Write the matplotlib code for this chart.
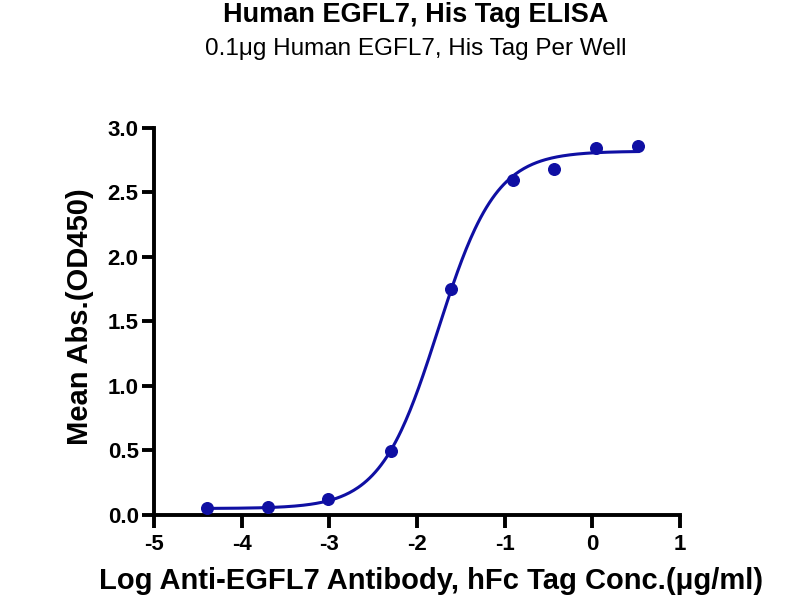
import numpy as np
import matplotlib
matplotlib.use("Agg")
import matplotlib.pyplot as plt

plt.rcParams['font.family'] = ['Liberation Sans', 'DejaVu Sans']
plt.rcParams['axes.unicode_minus'] = False

# measured points (log conc, OD450)
log_conc = [-4.40, -3.70, -3.01, -2.30, -1.61, -0.91, -0.44, 0.04, 0.52]
od450 = [0.052, 0.059, 0.124, 0.498, 1.749, 2.595, 2.68, 2.845, 2.858]

# four-parameter logistic fit
fit_bottom = 0.05
fit_top = 2.82
fit_logec50 = -1.76
fit_hill = 1.32

blue = '#0f0fa3'

fig = plt.figure(figsize=(8, 6), dpi=100)
ax = fig.add_axes([0.1925, 0.1417, 0.6575, 0.645])

xs = np.linspace(min(log_conc), max(log_conc), 300)
ys = fit_bottom + (fit_top - fit_bottom) / (1 + 10 ** ((fit_logec50 - xs) * fit_hill))
ax.plot(xs, ys, color=blue, lw=2.2, zorder=2)
ax.scatter(log_conc, od450, s=70, color=blue, zorder=3, clip_on=False)

ax.set_xlim(-5, 1)
ax.set_ylim(0, 3.0)
ax.set_xticks(range(-5, 2))
ax.set_yticks([0, 0.5, 1.0, 1.5, 2.0, 2.5, 3.0])
ax.set_yticklabels(['0.0', '0.5', '1.0', '1.5', '2.0', '2.5', '3.0'])

for s in ['top', 'right']:
    ax.spines[s].set_visible(False)
for s in ['left', 'bottom']:
    ax.spines[s].set_linewidth(2.8)
ax.tick_params(width=2.8, length=9, labelsize=16)
ax.tick_params(axis='x', pad=5)
ax.tick_params(axis='y', pad=2)
for lab in ax.get_xticklabels() + ax.get_yticklabels():
    lab.set_fontweight('bold')

fig.text(0.539, 0.018, 'Log Anti-EGFL7 Antibody, hFc Tag Conc.(μg/ml)',
         ha='center', va='baseline', fontsize=21, fontweight='bold')
fig.text(0.1, 0.473, 'Mean Abs.(OD450)', rotation=90, ha='center',
         va='center', fontsize=21, fontweight='bold')

fig.text(0.52, 0.964, 'Human EGFL7, His Tag ELISA', ha='center', va='baseline',
         fontsize=19.5, fontweight='bold')
fig.text(0.52, 0.908, '0.1μg Human EGFL7, His Tag Per Well', ha='center',
         va='baseline', fontsize=17.5)

fig.savefig('out.png', dpi=100)
